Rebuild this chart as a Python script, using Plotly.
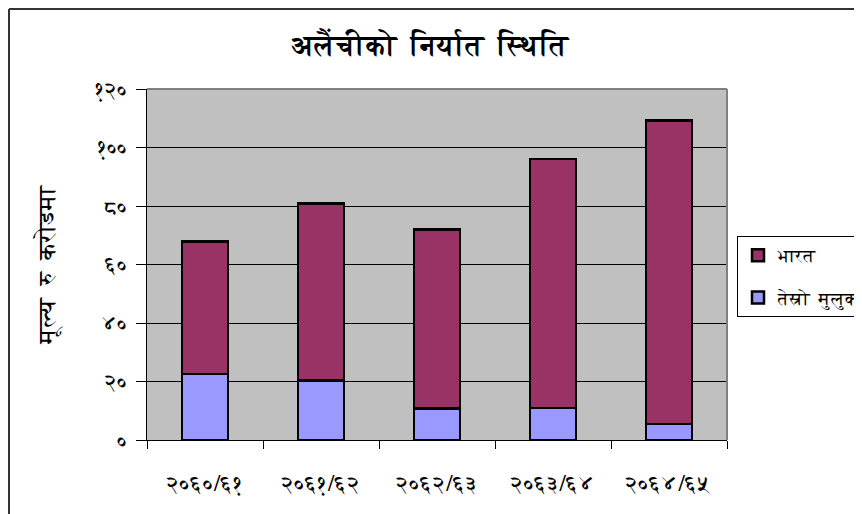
import plotly.graph_objects as go

categories = ["२०६०/६१", "२०६१/६२", "२०६२/६३", "२०६३/६४", "२०६४/६५"]
third_country = [22.6, 20.3, 10.8, 11.0, 5.4]
india = [45.2, 60.6, 61.2, 85.1, 103.8]
tick_vals = [0, 20, 40, 60, 80, 100, 120]
tick_text = ["०", "२०", "४०", "६०", "८०", "१००", "१२०"]

font_family = "FreeSerif, Lohit Devanagari, Noto Serif Devanagari, Noto Sans Devanagari, serif"

# The page body adds an 8px offset; the figure is sized to fit the window.
OFF = 8
W, H = 862 - OFF, 514 - OFF
PL, PR, PT, PB = 147 - OFF, 727 - OFF, 89 - OFF, 440 - OFF   # plot area in figure pixels
pw, ph = PR - PL, PB - PT

fig = go.Figure()
fig.add_trace(go.Bar(x=categories, y=third_country, name="तेस्रो  मुलुक",
                     legendgroup="g2", legendrank=2,
                     marker=dict(color="#9999FF", line=dict(color="black", width=2.5))))
fig.add_trace(go.Bar(x=categories, y=india, name="भारत",
                     legendgroup="g1", legendrank=1,
                     marker=dict(color="#993366", line=dict(color="black", width=2.5))))

fig.update_layout(
    barmode="stack",
    bargap=0.6,
    width=W, height=H,
    margin=dict(l=PL, r=W - PR, t=PT, b=H - PB, autoexpand=False),
    paper_bgcolor="white",
    plot_bgcolor="#C0C0C0",
    font=dict(family=font_family, color="black", size=18),
    title=dict(text="<b>अलैंचीको  निर्यात  स्थिति</b>", x=(430 - OFF) / W, xanchor="center",
               y=1 - (45 - OFF) / H, yanchor="middle",
               font=dict(size=28, family=font_family)),
    showlegend=True,
    legend=dict(xref="container", yref="container",
                x=(737 - OFF) / W, xanchor="left", y=1 - (236 - OFF) / H, yanchor="top",
                bordercolor="black", borderwidth=1, bgcolor="white",
                traceorder="grouped", font=dict(size=18), itemwidth=30,
                tracegroupgap=16),
    xaxis=dict(type="category", showgrid=False, ticks="outside", tickson="boundaries",
               ticklen=8, tickcolor="black", showline=True, linecolor="black", linewidth=1,
               tickfont=dict(size=23), ticklabelstandoff=22),
    yaxis=dict(range=[0, 120], tickvals=tick_vals, ticktext=tick_text,
               showgrid=True, gridcolor="black", gridwidth=1,
               ticks="outside", ticklen=10, tickcolor="black",
               showline=True, linecolor="black", linewidth=1,
               tickfont=dict(size=22), zeroline=False, ticklabelstandoff=4,
               title=dict(text="मूल्य  रु  करोडमा", font=dict(size=24), standoff=33)),
)

# plot area border on top and right (grey)
fig.add_shape(type="line", xref="paper", yref="paper", x0=0, x1=1, y0=1, y1=1,
              line=dict(color="#808080", width=2))
fig.add_shape(type="line", xref="paper", yref="paper", x0=1, x1=1, y0=0, y1=1,
              line=dict(color="#808080", width=2))
# outer chart frame (left and top edges of the figure)
fig.add_shape(type="line", xref="paper", yref="paper",
              x0=(1 - PL) / pw, x1=(1 - PL) / pw, y0=-(H - PB) / ph, y1=(PB - 1) / ph,
              line=dict(color="#333333", width=2))
fig.add_shape(type="line", xref="paper", yref="paper",
              x0=(1 - PL) / pw, x1=(W - PL) / pw, y0=(PB - 1) / ph, y1=(PB - 1) / ph,
              line=dict(color="#333333", width=2))

fig.write_html("out.html")
